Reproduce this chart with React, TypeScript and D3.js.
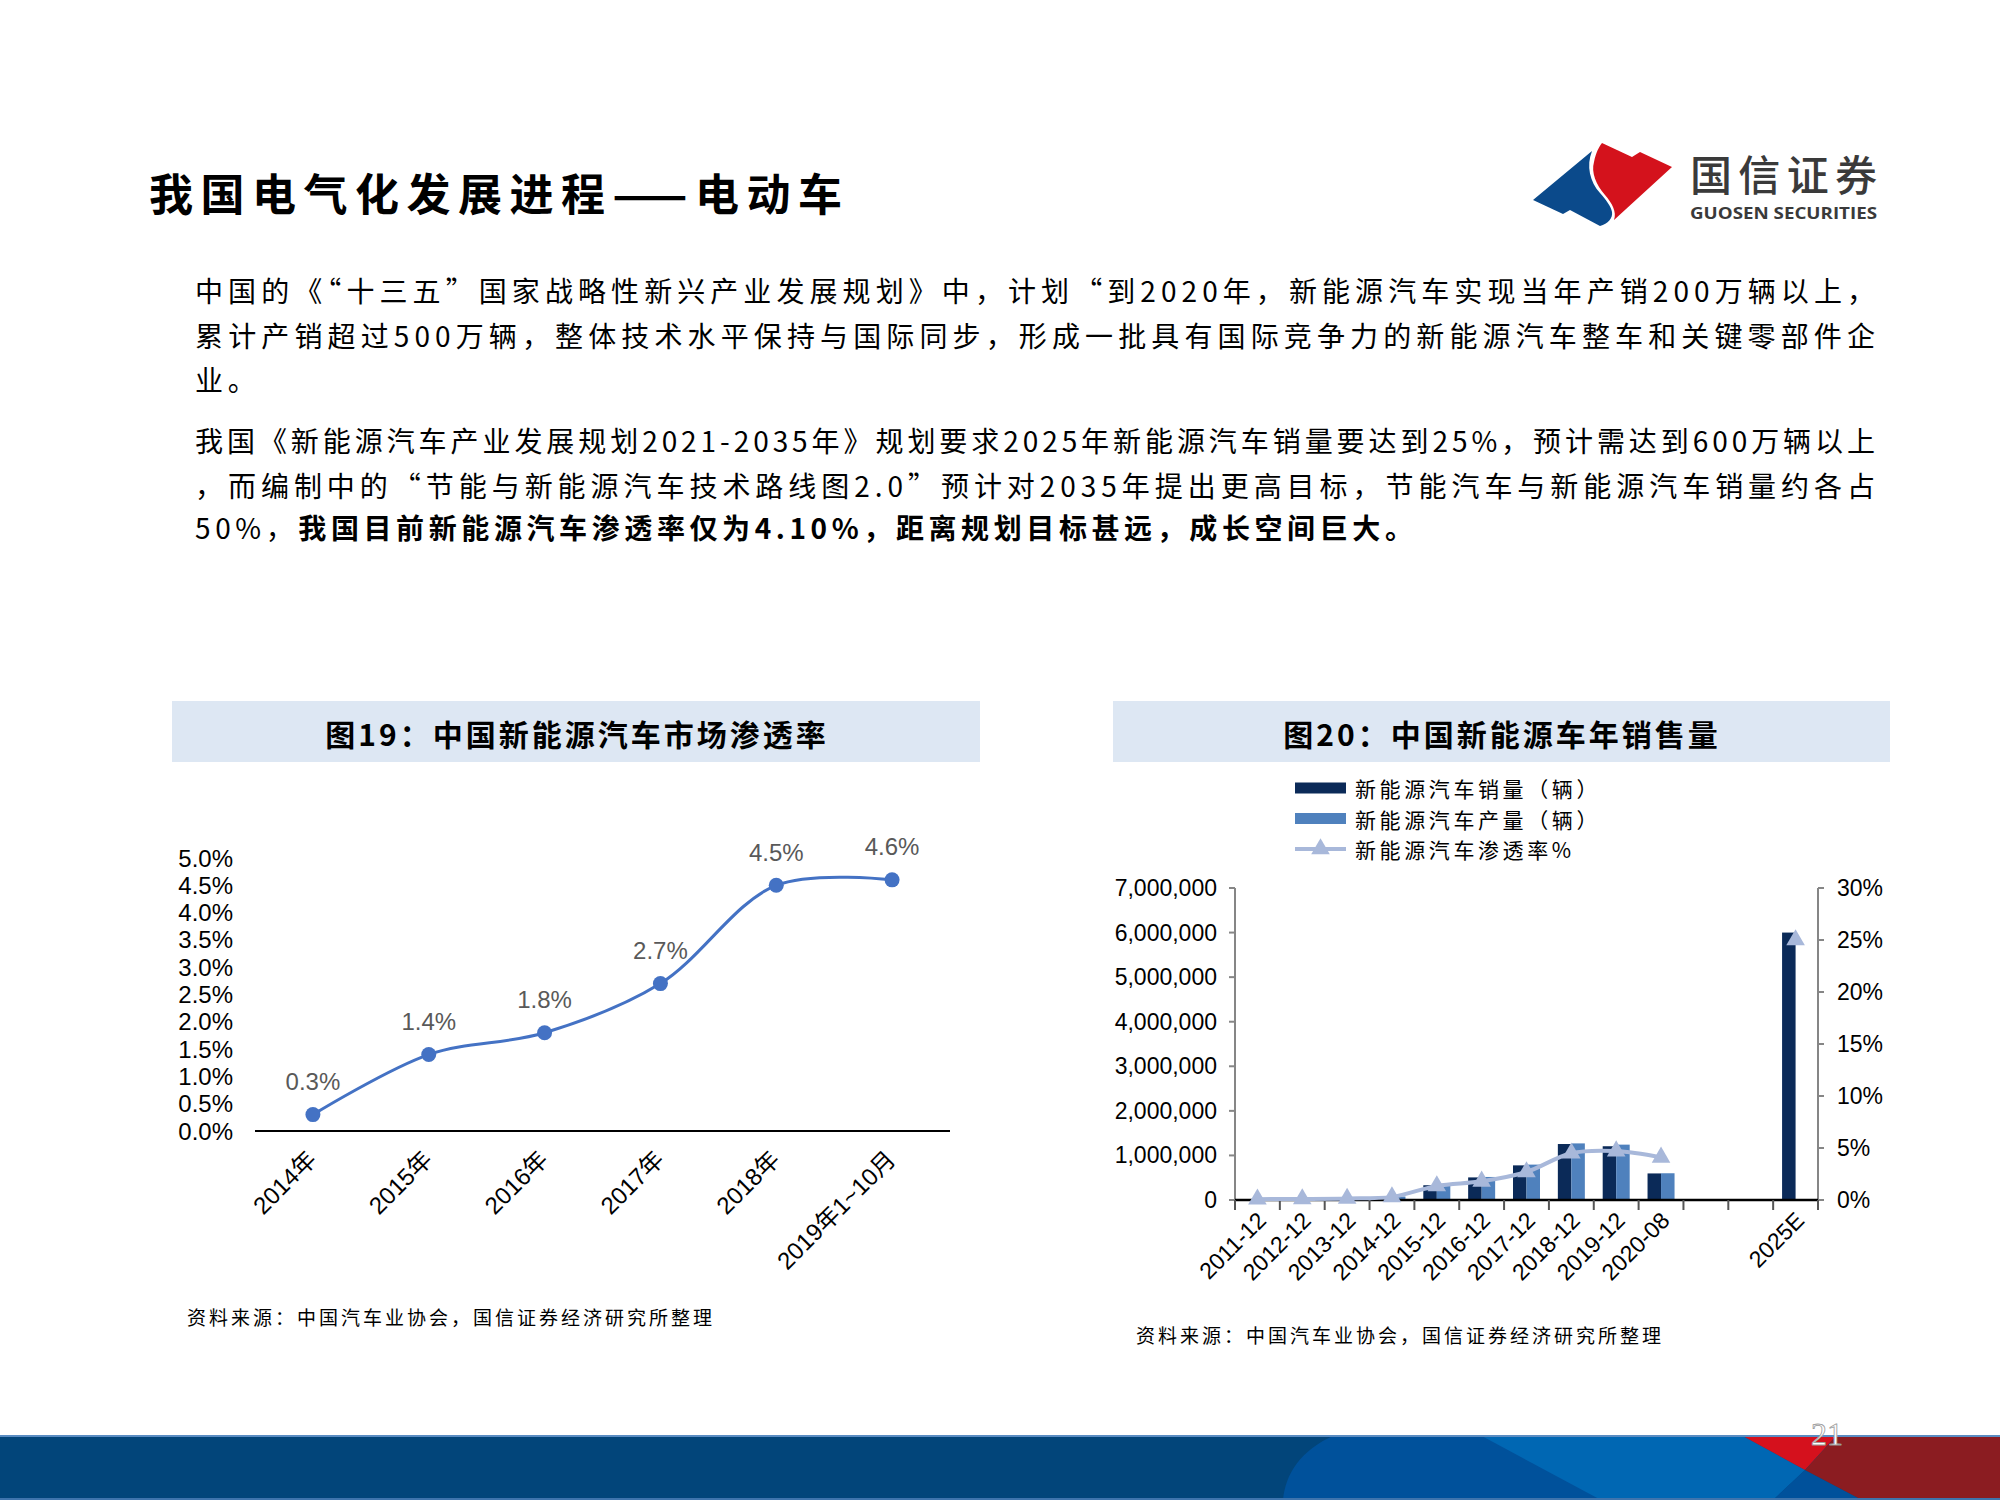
import * as d3 from "d3";

const W = 2000;
const H = 1500;

const FONT_CJK = '"Noto Sans CJK SC", "Noto Sans", sans-serif';
const FONT_NUM = '"Liberation Sans", Arial, "Noto Sans CJK SC", sans-serif';

// ---- 图19 data
const penYears = ["2014年", "2015年", "2016年", "2017年", "2018年", "2019年1~10月"];
const penRates = [0.003, 0.014, 0.018, 0.027, 0.045, 0.046];
const penLabels = ["0.3%", "1.4%", "1.8%", "2.7%", "4.5%", "4.6%"];
const penTicks = [0, 0.005, 0.01, 0.015, 0.02, 0.025, 0.03, 0.035, 0.04, 0.045, 0.05];

// ---- 图20 data
const salesPeriods = [
  "2011-12", "2012-12", "2013-12", "2014-12", "2015-12", "2016-12",
  "2017-12", "2018-12", "2019-12", "2020-08", "", "", "2025E",
];
const salesUnits = [8159, 12791, 17642, 74763, 331092, 507000, 777000, 1256000, 1206000, 596000, null, null, 6000000];
const prodUnits = [8368, 12552, 17533, 78499, 340471, 517000, 794000, 1270000, 1242000, 600000, null, null, null];
const penShare = [0.0008, 0.001, 0.0015, 0.003, 0.0135, 0.018, 0.027, 0.045, 0.047, 0.041, null, null, 0.25];
const unitTicks = [0, 1000000, 2000000, 3000000, 4000000, 5000000, 6000000, 7000000];
const shareTicks = [0, 0.05, 0.1, 0.15, 0.2, 0.25, 0.3];

const legendItems = ["新能源汽车销量（辆）", "新能源汽车产量（辆）", "新能源汽车渗透率%"];

const bodyLines = [
  "中国的《“十三五”国家战略性新兴产业发展规划》中，计划“到2020年，新能源汽车实现当年产销200万辆以上，",
  "累计产销超过500万辆，整体技术水平保持与国际同步，形成一批具有国际竞争力的新能源汽车整车和关键零部件企",
  "业。",
  "我国《新能源汽车产业发展规划2021-2035年》规划要求2025年新能源汽车销量要达到25%，预计需达到600万辆以上",
  "，而编制中的“节能与新能源汽车技术路线图2.0”预计对2035年提出更高目标，节能汽车与新能源汽车销量约各占",
];
const bodyY = [290, 335, 379, 440, 485, 527];

const SOURCE = "资料来源：中国汽车业协会，国信证券经济研究所整理";

function PenetrationChart() {
  const x = d3.scaleBand<number>().domain(d3.range(penYears.length)).range([255, 950]);
  const y = d3.scaleLinear().domain([0, 0.05]).range([1131, 858]);
  const cx = (i: number) => (x(i) as number) + x.bandwidth() / 2;
  const line = d3
    .line<number>()
    .x((_d, i) => cx(i))
    .y((d) => y(d))
    .curve(d3.curveCatmullRom.alpha(0.5));

  return (
    <g>
      <rect x={172} y={701} width={808} height={61} fill="#dde7f3" />
      <text x={577} y={733} textAnchor="middle" dominantBaseline="central" fontFamily={FONT_CJK}
        fontWeight={700} fontSize={30} letterSpacing={3}>
        图19：中国新能源汽车市场渗透率
      </text>

      {penTicks.map((t) => (
        <text key={t} x={233} y={y(t)} textAnchor="end" dominantBaseline="central"
          fontFamily={FONT_NUM} fontSize={24} fill="#000">
          {(t * 100).toFixed(1)}%
        </text>
      ))}
      <line x1={255} x2={950} y1={1131} y2={1131} stroke="#000" strokeWidth={2} />

      <path d={line(penRates) ?? ""} fill="none" stroke="#4472c4" strokeWidth={3} />
      {penRates.map((d, i) => (
        <g key={i}>
          <circle cx={cx(i)} cy={y(d)} r={7.5} fill="#4472c4" />
          <text x={cx(i)} y={y(d) - 33} textAnchor="middle" dominantBaseline="central"
            fontFamily={FONT_NUM} fontSize={24} fill="#595959">
            {penLabels[i]}
          </text>
        </g>
      ))}

      {penYears.map((lab, i) => (
        <text key={lab} transform={`translate(${cx(i) + 5},${1131 + 30}) rotate(-45)`}
          textAnchor="end" fontFamily={FONT_NUM} fontSize={24} fill="#000">
          {lab}
        </text>
      ))}

      <text x={187} y={1316} dominantBaseline="central" fontFamily={FONT_CJK} fontSize={19}
        letterSpacing={3} fill="#000">
        {SOURCE}
      </text>
    </g>
  );
}

function SalesChart() {
  const left = 1235;
  const right = 1818;
  const x = d3.scaleBand<number>().domain(d3.range(salesPeriods.length)).range([left, right]);
  const yUnits = d3.scaleLinear().domain([0, 7000000]).range([1200, 888]);
  const yShare = d3.scaleLinear().domain([0, 0.3]).range([1200, 888]);
  const cx = (i: number) => (x(i) as number) + x.bandwidth() / 2;
  const bw = 13.5;
  const fmt = d3.format(",");

  const shareLine = d3
    .line<number | null>()
    .defined((d) => d != null)
    .x((_d, i) => cx(i))
    .y((d) => yShare(d as number))
    .curve(d3.curveCatmullRom.alpha(0.5));
  const tri = d3.symbol().type(d3.symbolTriangle).size(150);

  return (
    <g>
      <rect x={1113} y={701} width={777} height={61} fill="#dde7f3" />
      <text x={1502} y={733} textAnchor="middle" dominantBaseline="central" fontFamily={FONT_CJK}
        fontWeight={700} fontSize={30} letterSpacing={3}>
        图20：中国新能源车年销售量
      </text>

      {/* legend */}
      {legendItems.map((lab, i) => {
        const ly = 788 + i * 30.5;
        return (
          <g key={lab}>
            {i < 2 ? (
              <rect x={1295} y={ly - 5.5} width={51} height={11} fill={i === 0 ? "#0b2a58" : "#4f81bd"} />
            ) : (
              <g>
                <line x1={1295} x2={1346} y1={ly} y2={ly} stroke="#a8b8da" strokeWidth={4} />
                <path d={tri() ?? ""} transform={`translate(1320.5,${ly})`} fill="#a8b8da" />
              </g>
            )}
            <text x={1355} y={ly} dominantBaseline="central" fontFamily={FONT_CJK} fontSize={21}
              letterSpacing={3.6} fill="#000">
              {lab}
            </text>
          </g>
        );
      })}

      {/* axes */}
      <line x1={left} x2={left} y1={888} y2={1200} stroke="#868686" strokeWidth={2} />
      <line x1={right} x2={right} y1={888} y2={1200} stroke="#868686" strokeWidth={2} />
      {unitTicks.map((t) => (
        <g key={t}>
          <line x1={left - 6} x2={left} y1={yUnits(t)} y2={yUnits(t)} stroke="#868686" strokeWidth={2} />
          <text x={1217} y={yUnits(t)} textAnchor="end" dominantBaseline="central" fontFamily={FONT_NUM}
            fontSize={23} fill="#000">
            {fmt(t)}
          </text>
        </g>
      ))}
      {shareTicks.map((t) => (
        <g key={t}>
          <line x1={right} x2={right + 6} y1={yShare(t)} y2={yShare(t)} stroke="#868686" strokeWidth={2} />
          <text x={1837} y={yShare(t)} dominantBaseline="central" fontFamily={FONT_NUM} fontSize={23} fill="#000">
            {Math.round(t * 100)}%
          </text>
        </g>
      ))}

      {/* bars */}
      {salesUnits.map((v, i) =>
        v == null ? null : (
          <rect key={"s" + i} x={cx(i) - bw} y={yUnits(v)} width={bw} height={1200 - yUnits(v)} fill="#0b2a58" />
        )
      )}
      {prodUnits.map((v, i) =>
        v == null ? null : (
          <rect key={"p" + i} x={cx(i)} y={yUnits(v)} width={bw} height={1200 - yUnits(v)} fill="#4f81bd" />
        )
      )}

      <line x1={left} x2={right} y1={1200} y2={1200} stroke="#000" strokeWidth={2.5} />
      {d3.range(salesPeriods.length + 1).map((i) => {
        const tx = left + i * x.step();
        return <line key={"t" + i} x1={tx} x2={tx} y1={1200} y2={1210} stroke="#555" strokeWidth={2} />;
      })}

      <path d={shareLine(penShare) ?? ""} fill="none" stroke="#a8b8da" strokeWidth={4} />
      {penShare.map((v, i) =>
        v == null ? null : (
          <path key={"m" + i} d={tri() ?? ""} transform={`translate(${cx(i)},${yShare(v)})`} fill="#a8b8da" />
        )
      )}

      {salesPeriods.map((lab, i) =>
        lab === "" ? null : (
          <text key={"l" + i} transform={`translate(${cx(i) + 10},${1200 + 22}) rotate(-45)`} textAnchor="end"
            fontFamily={FONT_NUM} fontSize={23} fill="#000">
            {lab}
          </text>
        )
      )}

      <text x={1136} y={1334} dominantBaseline="central" fontFamily={FONT_CJK} fontSize={19}
        letterSpacing={3} fill="#000">
        {SOURCE}
      </text>
    </g>
  );
}

function Header() {
  return (
    <g>
      <text x={149} y={192} dominantBaseline="central" fontFamily={FONT_CJK} fontWeight={700} fontSize={44}
        textLength={693} lengthAdjust="spacing">
        我国电气化发展进程——电动车
      </text>
      {/* logo */}
      <path
        d="M1533,200 L1592,151 C1586,166 1590,182 1600,193 C1606,200 1611,206 1612,212 C1613,218 1608,224 1600,226 L1570,210 L1563,214 Z"
        fill="#0b4a8b"
      />
      <path
        d="M1602,143 L1632,157 L1640,152 L1672,167 L1614,220 C1617,212 1612,203 1605,195 C1596,185 1591,172 1594,162 C1596,152 1599,147 1602,143 Z"
        fill="#d4121c"
      />
      <text x={1690} y={172} dominantBaseline="central" fontFamily={FONT_CJK} fontWeight={500} fontSize={42}
        fill="#3a3a3a" textLength={187} lengthAdjust="spacing">
        国信证券
      </text>
      <text x={1690} y={213} dominantBaseline="central" fontFamily='"Open Sans", "Noto Sans", sans-serif'
        fontWeight={700} fontSize={16} fill="#3a3a3a" textLength={187} lengthAdjust="spacingAndGlyphs">
        GUOSEN SECURITIES
      </text>
    </g>
  );
}

function Body() {
  return (
    <g fontFamily={FONT_CJK} fontSize={28} fill="#000">
      {bodyLines.map((t, i) => (
        <text key={i} x={195} y={bodyY[i]} dominantBaseline="central"
          {...(i === 2 ? { letterSpacing: 4.8 } : { textLength: 1680, lengthAdjust: "spacing" })}>
          {t}
        </text>
      ))}
      <text x={195} y={bodyY[5]} dominantBaseline="central" letterSpacing={4.6}>
        <tspan>50%，</tspan>
        <tspan fontWeight={700}>我国目前新能源汽车渗透率仅为4.10%，距离规划目标甚远，成长空间巨大。</tspan>
      </text>
    </g>
  );
}

function Footer() {
  return (
    <g>
      <rect x={0} y={1435} width={W} height={65} fill="#02457a" />
      <path d="M1335,1435 L1741,1435 L1805,1470 L1773,1500 L1283,1500 C1285,1475 1300,1450 1335,1435 Z" fill="#00519b" />
      <path d="M1480,1435 L1741,1435 L1805,1470 L1773,1500 L1601,1500 Z" fill="#0067b3" />
      <path d="M1805,1470 L1773,1500 L1862,1500 Z" fill="#00519b" />
      <path d="M1741,1435 L1837,1435 L1805,1470 Z" fill="#d5111d" />
      <path d="M1837,1435 L2000,1435 L2000,1500 L1862,1500 L1805,1470 Z" fill="#8b1c21" />
      <line x1={0} x2={W} y1={1436} y2={1436} stroke="#5a8cc2" strokeWidth={2} />
      <line x1={0} x2={W} y1={1499} y2={1499} stroke="#3f74ad" strokeWidth={2} />
      <text x={1827} y={1445} textAnchor="middle" fontFamily='"Liberation Serif", serif' fontSize={32}
        fill="#ffffff" stroke="#9a9a9a" strokeWidth={0.8}>
        21
      </text>
    </g>
  );
}

export default function App() {
  return (
    <svg width={W} height={H} viewBox={`0 0 ${W} ${H}`}
      style={{ position: "absolute", left: 0, top: 0, background: "#fff" }}>
      <rect width={W} height={H} fill="#fff" />
      <Header />
      <Body />
      <PenetrationChart />
      <SalesChart />
      <Footer />
    </svg>
  );
}
